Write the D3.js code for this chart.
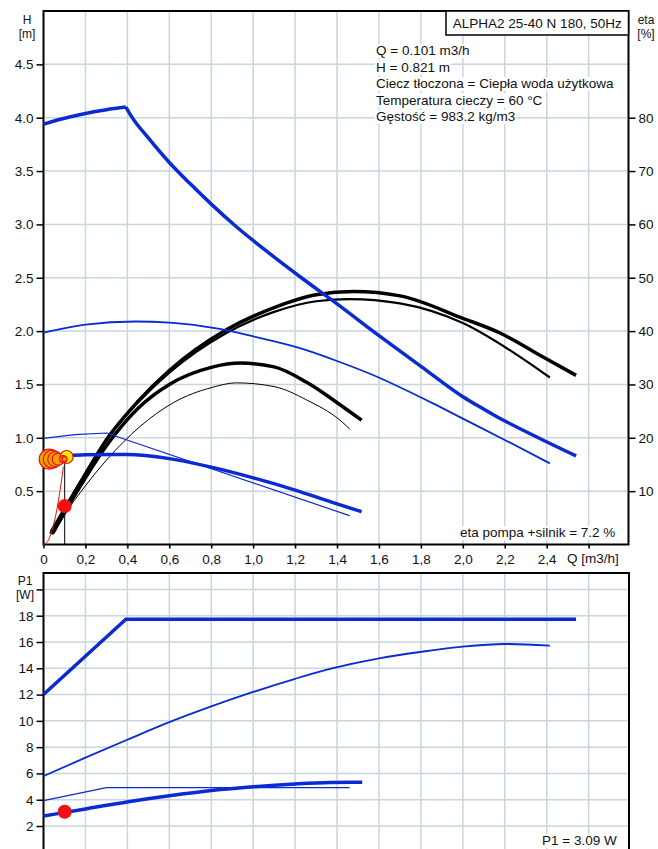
<!doctype html>
<html lang="pl">
<head>
<meta charset="utf-8">
<title>ALPHA2 25-40 N 180, 50Hz</title>
<script src="https://cdn.jsdelivr.net/npm/d3@7"></script>
<style>
  body { margin: 0; background: #fff; }
  text { font-family: "Liberation Sans", Arial, sans-serif; fill: #111; }
</style>
</head>
<body>
<script>
// ticks
var qTicks = [0, 0.2, 0.4, 0.6, 0.8, 1.0, 1.2, 1.4, 1.6, 1.8, 2.0, 2.2, 2.4, 2.6];
var hTicks = [0.5, 1.0, 1.5, 2.0, 2.5, 3.0, 3.5, 4.0, 4.5];
var etaTicks = [10, 20, 30, 40, 50, 60, 70, 80];
var pTicks = [2, 4, 6, 8, 10, 12, 14, 16, 18, 20];

// head curves [Q m3/h, H m]
var hMax = [[0, 3.94], [0.1, 3.995], [0.2, 4.04], [0.3, 4.075], [0.393, 4.1], [0.42, 4.01], [0.5, 3.81], [0.6, 3.58],
            [0.7, 3.38], [0.8, 3.19], [0.913, 2.99], [1.07, 2.74], [1.23, 2.5], [1.4, 2.255], [1.605, 1.95],
            [1.8, 1.67], [2.0, 1.385], [2.08, 1.29], [2.16, 1.2], [2.35, 1.01], [2.54, 0.83]];
var hMid = [[0, 1.985], [0.2, 2.06], [0.44, 2.09], [0.6, 2.08], [0.84, 2.02], [1.0, 1.95], [1.223, 1.84], [1.4, 1.72],
            [1.557, 1.6], [1.86, 1.32], [2.0, 1.18], [2.2, 0.98], [2.415, 0.76]];
var hLowThin = [[0, 0.995], [0.15, 1.03], [0.3, 1.045], [1.46, 0.27]];
var hLowThick = [[0, 0.83], [0.1, 0.832], [0.2, 0.842], [0.4, 0.843], [0.6, 0.805], [0.8, 0.725], [1.0, 0.625],
                 [1.2, 0.51], [1.37, 0.4], [1.517, 0.307]];

// efficiency curves [Q m3/h, eta %]
var etaA = [[0.035, 2], [0.1, 6.5], [0.2, 13.2], [0.3, 19.6], [0.45, 26.8], [0.6, 32.6], [0.87, 40.2], [1.1, 44.4],
            [1.3, 46.8], [1.48, 47.4], [1.7, 46.6], [2.0, 42.4], [2.18, 39.6], [2.34, 36.1], [2.54, 31.7]];
var etaB = [[0.035, 2.5], [0.1, 6.8], [0.2, 13.4], [0.3, 19.8], [0.45, 26.6], [0.6, 32.2], [0.87, 39.6], [1.1, 43.6],
            [1.3, 45.6], [1.46, 46.0], [1.7, 45.2], [2.0, 41.5], [2.26, 35.5], [2.415, 31.3]];
var etaC = [[0.04, 2], [0.1, 6], [0.2, 12.5], [0.3, 18.5], [0.45, 25.5], [0.6, 30], [0.8, 33.2], [0.94, 34.0],
            [1.1, 33.3], [1.255, 30.4], [1.414, 26.2], [1.517, 23.3]];
var etaD = [[0.05, 2], [0.1, 5.5], [0.2, 11], [0.3, 15.8], [0.46, 22.1], [0.62, 26.6], [0.8, 29.4], [0.92, 30.3],
            [1.1, 29.6], [1.255, 27.1], [1.414, 23.3], [1.462, 21.6]];

// power curves [Q m3/h, P1 W]
var pMax = [[0, 12], [0.393, 17.73], [2.54, 17.73]];
var pMid = [[0, 5.8], [0.2, 7.2], [0.405, 8.6], [0.6, 9.9], [0.8, 11.1], [1.0, 12.2], [1.2, 13.2], [1.366, 13.95],
            [1.6, 14.76], [1.8, 15.25], [2.0, 15.65], [2.2, 15.85], [2.415, 15.72]];
var pLowThin = [[0, 3.93], [0.3, 4.92], [1.46, 4.92]];
var pLowThick = [[0, 2.76], [0.2, 3.3], [0.405, 3.85], [0.6, 4.3], [0.8, 4.7], [1.0, 4.99], [1.2, 5.2],
                 [1.366, 5.31], [1.52, 5.33]];

// duty point and system curve
var duty = {q: 0.101, h: 0.821, eta: 7.2, p1: 3.09};
var systemCurve = [[0, 0], [0.02, 0.03], [0.04, 0.13], [0.06, 0.29], [0.08, 0.52], [0.095, 0.73]];
var trailQ = [0.027, 0.042, 0.056, 0.07, 0.11, 0.094, 0.1];
var trailH = [0.80, 0.80, 0.80, 0.80, 0.82, 0.80, 0.80];

var infoLines = ["Q = 0.101 m3/h", "H = 0.821 m", "Ciecz tłoczona = Ciepła woda użytkowa",
                 "Temperatura cieczy = 60 °C", "Gęstość = 983.2 kg/m3"];

var blue = "#0a2ad2", grid = "#c9d5df", fs = 13.5;

var svg = d3.select("body").append("svg").attr("width", 658).attr("height", 849);

var x = d3.scaleLinear().domain([0, 2.79]).range([43.5, 628.5]);
var yH = d3.scaleLinear().domain([0, 5]).range([544.5, 11]);
var yEta = d3.scaleLinear().domain([0, 100]).range([544.5, 11]);
var yP = d3.scaleLinear().domain([0, 21.25]).range([852.3, 573]);

// grid
var g = svg.append("g").attr("stroke", grid).attr("stroke-width", 1.5);
qTicks.slice(1).forEach(function(q) {
  g.append("line").attr("x1", x(q)).attr("x2", x(q)).attr("y1", yH(5)).attr("y2", yH(0) + 4);
  g.append("line").attr("x1", x(q)).attr("x2", x(q)).attr("y1", yP(21.25)).attr("y2", 849);
});
hTicks.forEach(function(h) {
  g.append("line").attr("x1", x(0)).attr("x2", x(2.79)).attr("y1", yH(h)).attr("y2", yH(h));
});
pTicks.forEach(function(p) {
  g.append("line").attr("x1", x(0)).attr("x2", x(2.79)).attr("y1", yP(p)).attr("y2", yP(p));
});

function bgText(px, py, str) {
  var grp = svg.append("g");
  var t = grp.append("text").attr("x", px).attr("y", py).attr("font-size", fs).text(str);
  var b = t.node().getBBox();
  grp.insert("rect", "text").attr("x", b.x - 1).attr("y", b.y + 1).attr("width", b.width + 2)
    .attr("height", b.height - 1).attr("fill", "#fff");
}

infoLines.forEach(function(s, i) { bgText(376, 55 + i * 16.5, s); });
bgText(460, 537, "eta pompa +silnik = 7.2 %");
bgText(542, 845, "P1 = 3.09 W");

// axes
function styleAxis(sel) {
  sel.select(".domain").remove();
  sel.selectAll(".tick line").attr("stroke", "#000").attr("stroke-width", 1.5);
  sel.selectAll(".tick text").attr("font-size", fs).attr("font-family", "Liberation Sans, Arial, sans-serif");
}
svg.append("g").attr("transform", "translate(" + x(0) + ",0)")
  .call(d3.axisLeft(yH).tickValues(hTicks).tickSize(7).tickPadding(3).tickFormat(d3.format(".1f")))
  .call(styleAxis);
svg.append("g").attr("transform", "translate(" + x(2.79) + ",0)")
  .call(d3.axisRight(yEta).tickValues(etaTicks).tickSize(7).tickPadding(3))
  .call(styleAxis);
svg.append("g").attr("transform", "translate(0," + yH(0) + ")")
  .call(d3.axisBottom(x).tickValues(qTicks).tickSize(4).tickPadding(6)
    .tickFormat(function(d) { return d === 0 ? "0" : d > 2.5 ? "" : d3.format(".1f")(d).replace(".", ","); }))
  .call(styleAxis);
svg.append("g").attr("transform", "translate(" + x(0) + ",0)")
  .call(d3.axisLeft(yP).tickValues(pTicks).tickSize(7).tickPadding(3)
    .tickFormat(function(d) { return d === 20 ? "" : d; }))
  .call(styleAxis);

// frames
svg.append("rect").attr("x", x(0)).attr("y", yH(5)).attr("width", x(2.79) - x(0)).attr("height", yH(0) - yH(5))
  .attr("fill", "none").attr("stroke", "#000").attr("stroke-width", 2);
svg.append("rect").attr("x", x(0)).attr("y", yP(21.25)).attr("width", x(2.79) - x(0) + 0.5).attr("height", 300)
  .attr("fill", "none").attr("stroke", "#000").attr("stroke-width", 2);

// axis labels
function lbl(px, py, s, anchor, size) {
  svg.append("text").attr("x", px).attr("y", py).attr("font-size", size || fs)
    .attr("text-anchor", anchor || "middle").text(s);
}
lbl(27, 24, "H", "middle", 12); lbl(27, 38, "[m]", "middle", 12);
lbl(646, 24, "eta", "middle", 12); lbl(646, 38, "[%]", "middle", 12);
lbl(25, 585, "P1", "middle", 12); lbl(25, 599, "[W]", "middle", 12);
lbl(567, 563, "Q [m3/h]", "start");

// title box
svg.append("rect").attr("x", 446).attr("y", yH(5)).attr("width", x(2.79) - 446).attr("height", 24)
  .attr("fill", "#fff").attr("stroke", "#000").attr("stroke-width", 1.5);
svg.append("text").attr("x", (446 + x(2.79)) / 2).attr("y", 28).attr("font-size", fs)
  .attr("text-anchor", "middle").text("ALPHA2 25-40 N 180, 50Hz");

// curves
var smooth = d3.curveMonotoneX, straight = d3.curveLinear;
function gen(ys, c) {
  return d3.line().x(function(d) { return x(d[0]); }).y(function(d) { return ys(d[1]); }).curve(c);
}
function draw(ys, data, c, color, w) {
  svg.append("path").attr("d", gen(ys, c)(data)).attr("fill", "none").attr("stroke", color)
    .attr("stroke-width", w).attr("stroke-linejoin", "round");
}

draw(yEta, etaA, smooth, "#000", 3.5);
draw(yEta, etaB, smooth, "#000", 2.2);
draw(yEta, etaC, smooth, "#000", 3.5);
draw(yEta, etaD, smooth, "#000", 1);

draw(yH, hMax.slice(0, 5), smooth, blue, 3.5);
draw(yH, hMax.slice(4), smooth, blue, 3.5);
draw(yH, hMid, smooth, blue, 1.8);
draw(yH, hLowThin, straight, blue, 1.2);
draw(yH, hLowThick, smooth, blue, 3.5);

draw(yP, pMax, straight, blue, 3.5);
draw(yP, pMid, smooth, blue, 1.8);
draw(yP, pLowThin, straight, blue, 1.2);
draw(yP, pLowThick, smooth, blue, 3.5);

// duty point
svg.append("line").attr("x1", x(duty.q)).attr("x2", x(duty.q)).attr("y1", yH(duty.h)).attr("y2", yH(0))
  .attr("stroke", "#000").attr("stroke-width", 1);
draw(yH, systemCurve, smooth, "#f01010", 1);

var trailR = [10, 9, 7.5, 6, 6.5, 3.5, 2.5];
trailQ.forEach(function(q, i) {
  svg.append("circle").attr("cx", x(q)).attr("cy", yH(trailH[i])).attr("r", trailR[i])
    .attr("fill", i === 4 ? "#ffee00" : "#f0a000").attr("stroke", "#f01010").attr("stroke-width", 1.2);
});

svg.append("circle").attr("cx", x(duty.q)).attr("cy", yEta(duty.eta)).attr("r", 7).attr("fill", "#f01010");
svg.append("circle").attr("cx", x(duty.q)).attr("cy", yP(duty.p1)).attr("r", 7).attr("fill", "#f01010");
</script>
</body>
</html>
